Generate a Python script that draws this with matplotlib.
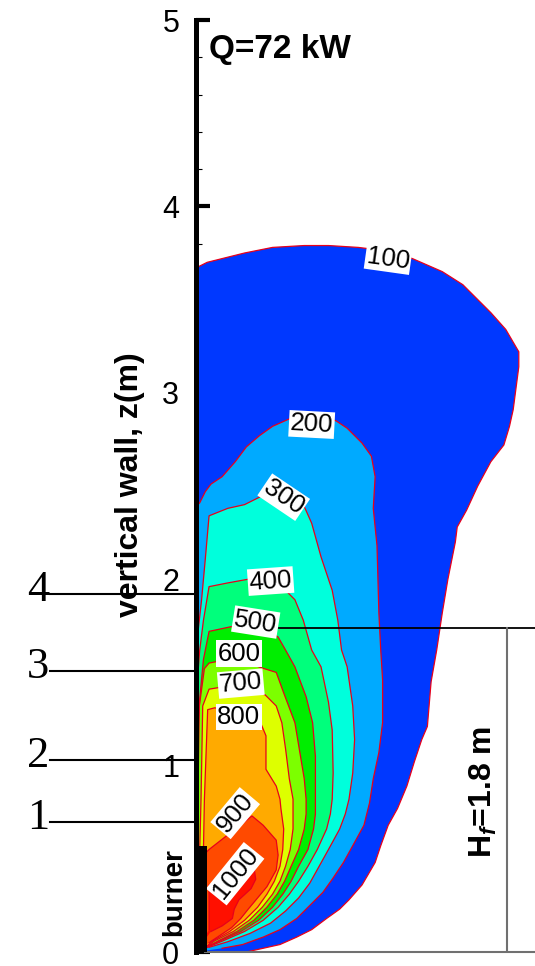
import matplotlib
matplotlib.use("Agg")
import matplotlib.pyplot as plt
from matplotlib.patches import Polygon, Rectangle
from matplotlib.ticker import MultipleLocator

plt.rcParams.update({
    "font.family": "Liberation Sans",
    "mathtext.fontset": "custom",
    "mathtext.rm": "Liberation Sans:bold",
    "mathtext.it": "Liberation Sans:italic:bold",
})

# ------------------------------------------------------------
# isotherm levels (deg C) and their fill colours
# ------------------------------------------------------------
LEVELS = [100, 200, 300, 400, 500, 600, 700, 800, 900, 1000]
FILL_COLORS = ["#0038ff", "#00aaff", "#00ffdc", "#00ff7c", "#00ee00",
               "#7cff00", "#ddff00", "#ffaa00", "#ff4a00", "#ff1000"]

# isotherm outlines: (x from wall [m], z [m])
ISO_100 = [(0.00, 3.67), (0.06, 3.70), (0.26, 3.75), (0.41, 3.78), (0.58, 3.79),
           (0.71, 3.79), (0.87, 3.78), (1.03, 3.76), (1.16, 3.72), (1.32, 3.65),
           (1.43, 3.58), (1.58, 3.43), (1.66, 3.34), (1.73, 3.22), (1.73, 3.14),
           (1.70, 2.91), (1.68, 2.82), (1.65, 2.72), (1.58, 2.63), (1.51, 2.50),
           (1.45, 2.37), (1.40, 2.28), (1.39, 2.20), (1.35, 2.00), (1.32, 1.82),
           (1.29, 1.62), (1.26, 1.45), (1.24, 1.21), (1.21, 1.14), (1.17, 1.02),
           (1.13, 0.89), (1.08, 0.77), (1.03, 0.68), (0.99, 0.57), (0.96, 0.48),
           (0.89, 0.36), (0.82, 0.28), (0.77, 0.23), (0.70, 0.18), (0.62, 0.12),
           (0.54, 0.08), (0.45, 0.04), (0.36, 0.02), (0.27, 0.00)]
ISO_200 = [(0.00, 2.39), (0.02, 2.41), (0.05, 2.47), (0.08, 2.51), (0.14, 2.55),
           (0.21, 2.63), (0.27, 2.71), (0.34, 2.77), (0.41, 2.82), (0.50, 2.86),
           (0.62, 2.87), (0.75, 2.85), (0.81, 2.81), (0.89, 2.73), (0.94, 2.66),
           (0.96, 2.55), (0.95, 2.38), (0.97, 2.18), (0.98, 1.82), (0.99, 1.62),
           (1.00, 1.46), (1.00, 1.23), (0.98, 1.07), (0.95, 0.93), (0.93, 0.80),
           (0.90, 0.68), (0.84, 0.57), (0.79, 0.48), (0.73, 0.39), (0.68, 0.32),
           (0.61, 0.25), (0.54, 0.18), (0.45, 0.12), (0.36, 0.08), (0.25, 0.04),
           (0.14, 0.02)]
ISO_300 = [(0.00, 1.62), (0.03, 1.89), (0.05, 2.11), (0.07, 2.34), (0.17, 2.38),
           (0.26, 2.40), (0.36, 2.45), (0.45, 2.47), (0.56, 2.46), (0.58, 2.39),
           (0.62, 2.30), (0.67, 2.12), (0.73, 1.94), (0.76, 1.78), (0.78, 1.62),
           (0.81, 1.53), (0.84, 1.32), (0.85, 1.14), (0.84, 0.96), (0.82, 0.82),
           (0.80, 0.74), (0.77, 0.66), (0.71, 0.55), (0.66, 0.46), (0.61, 0.37),
           (0.55, 0.29), (0.48, 0.22), (0.40, 0.155), (0.29, 0.10), (0.17, 0.055),
           (0.07, 0.025)]
ISO_400 = [(0.00, 1.36), (0.02, 1.62), (0.04, 1.78), (0.07, 1.96), (0.17, 1.98),
           (0.28, 2.00), (0.39, 2.01), (0.48, 1.94), (0.53, 1.89), (0.575, 1.78),
           (0.62, 1.62), (0.67, 1.53), (0.71, 1.34), (0.73, 1.19), (0.735, 0.96),
           (0.73, 0.82), (0.72, 0.74), (0.70, 0.66), (0.65, 0.55), (0.60, 0.46),
           (0.55, 0.38), (0.50, 0.31), (0.44, 0.24), (0.36, 0.17), (0.26, 0.11),
           (0.145, 0.06), (0.06, 0.025)]
ISO_500 = [(0.00, 1.03), (0.02, 1.36), (0.04, 1.57), (0.07, 1.72), (0.21, 1.75),
           (0.32, 1.76), (0.44, 1.69), (0.48, 1.62), (0.53, 1.53), (0.59, 1.37),
           (0.625, 1.23), (0.64, 1.05), (0.64, 0.82), (0.64, 0.74), (0.63, 0.66),
           (0.60, 0.55), (0.55, 0.46), (0.51, 0.38), (0.465, 0.31), (0.41, 0.24),
           (0.335, 0.17), (0.24, 0.11), (0.13, 0.06), (0.05, 0.025)]
ISO_600 = [(0.00, 0.71), (0.01, 0.82), (0.018, 1.32), (0.045, 1.52), (0.07, 1.55),
           (0.12, 1.56), (0.22, 1.57), (0.35, 1.525), (0.43, 1.50), (0.47, 1.39),
           (0.53, 1.23), (0.56, 1.05), (0.58, 0.93), (0.59, 0.82), (0.59, 0.74),
           (0.58, 0.66), (0.55, 0.55), (0.51, 0.46), (0.475, 0.38), (0.435, 0.31),
           (0.38, 0.24), (0.31, 0.17), (0.22, 0.11), (0.12, 0.06), (0.05, 0.02)]
ISO_700 = [(0.02, 0.55), (0.027, 0.82), (0.036, 1.32), (0.07, 1.41), (0.13, 1.42),
           (0.24, 1.41), (0.37, 1.38), (0.43, 1.32), (0.46, 1.23), (0.48, 1.09),
           (0.50, 0.93), (0.52, 0.82), (0.52, 0.74), (0.52, 0.66), (0.505, 0.55),
           (0.48, 0.46), (0.45, 0.38), (0.41, 0.31), (0.355, 0.24), (0.285, 0.17),
           (0.20, 0.11), (0.10, 0.06), (0.046, 0.02)]
ISO_800 = [(0.04, 0.55), (0.045, 0.82), (0.0625, 1.30), (0.10, 1.31), (0.22, 1.29),
           (0.35, 1.22), (0.375, 1.16), (0.375, 0.98), (0.43, 0.89), (0.45, 0.82),
           (0.455, 0.77), (0.47, 0.66), (0.465, 0.55), (0.45, 0.46), (0.42, 0.38),
           (0.38, 0.31), (0.33, 0.24), (0.26, 0.17), (0.18, 0.11), (0.09, 0.06),
           (0.045, 0.02)]
ISO_900 = [(0.05, 0.05), (0.05, 0.53), (0.07, 0.55), (0.30, 0.73), (0.36, 0.68),
           (0.43, 0.60), (0.44, 0.52), (0.43, 0.44), (0.38, 0.35), (0.33, 0.29),
           (0.28, 0.23), (0.24, 0.18), (0.19, 0.13), (0.13, 0.09), (0.07, 0.05)]
ISO_1000 = [(0.07, 0.12), (0.07, 0.36), (0.31, 0.46), (0.32, 0.39), (0.295, 0.34),
            (0.23, 0.28), (0.205, 0.23), (0.195, 0.18), (0.14, 0.14), (0.08, 0.11)]

ISOTHERMS = [ISO_100, ISO_200, ISO_300, ISO_400, ISO_500,
             ISO_600, ISO_700, ISO_800, ISO_900, ISO_1000]

# inline contour labels
LABEL_X = [1.03, 0.62, 0.47, 0.40, 0.32, 0.23, 0.24, 0.23, 0.21, 0.21]
LABEL_Z = [3.72, 2.83, 2.44, 1.99, 1.77, 1.60, 1.44, 1.26, 0.745, 0.42]
LABEL_ROT = [-8, -3, -34, 4, -9, 0, 5, 0, 50, 51]

# measuring points along the wall
PROBE_NAMES = ["1", "2", "3", "4"]
PROBE_Z = [0.70, 1.03, 1.51, 1.92]

BURNER_TOP = 0.57
FLAME_HEIGHT = 1.74
HRR_TEXT = "Q=72 kW"

# ------------------------------------------------------------
fig = plt.figure(figsize=(5.35, 9.66), dpi=100)
ax = fig.add_axes([196 / 535, 14 / 966, 339.6 / 535, 932 / 966])
ax.set_xlim(0, 1.82)
ax.set_ylim(0, 5)

for pts, col in zip(ISOTHERMS, FILL_COLORS):
    ax.add_patch(Polygon(pts + [(0.0, 0.0)], closed=True, facecolor=col,
                         edgecolor="none", zorder=2))
    xs = [p[0] for p in pts]
    zs = [p[1] for p in pts]
    ax.plot(xs, zs, color="#e8001a", lw=0.9, zorder=3)

for lev, lx, lz, rot in zip(LEVELS, LABEL_X, LABEL_Z, LABEL_ROT):
    ax.text(lx, lz, str(lev), fontsize=18.5, rotation=rot, ha="center",
            va="center", zorder=5,
            bbox=dict(boxstyle="square,pad=0.05", fc="white", ec="none"))

# burner
ax.add_patch(Rectangle((-0.013, 0), 0.07, BURNER_TOP, facecolor="black",
                       edgecolor="none", zorder=6, clip_on=False))

# flame height dimension
ax.plot([0.445, 1.82], [FLAME_HEIGHT, FLAME_HEIGHT], color="black", lw=1.3,
        zorder=4, clip_on=False)
ax.plot([1.667, 1.667], [0, FLAME_HEIGHT], color="#707070", lw=1.5, zorder=4)
ax.plot([0.05, 1.82], [0, 0], color="#707070", lw=1.5, zorder=4, clip_on=False)
ax.text(1.54, 0.86, r"H$_\mathit{f}$=1.8 m", rotation=90, fontsize=23,
        fontweight="bold", ha="center", va="center", zorder=5)

# probe markers
for name, pz in zip(PROBE_NAMES, PROBE_Z):
    ax.plot([-0.78, 0], [pz, pz], color="black", lw=1.5, zorder=7,
            clip_on=False)
    ax.text(-0.845, pz + 0.02, name, fontsize=32, family="Liberation Serif",
            ha="center", va="center", zorder=7, clip_on=False)

ax.text(0.07, 4.84, HRR_TEXT, fontsize=24, fontweight="bold",
        ha="left", va="center")
ax.text(-0.118, 0.32, "burner", rotation=90, fontsize=20, fontweight="bold",
        ha="center", va="center", clip_on=False)
ax.text(-0.354, 2.51, "vertical wall, z(m)", rotation=90, fontsize=23,
        fontweight="bold", ha="center", va="center", clip_on=False)

# axis styling: only the wall (left spine)
for side in ["top", "right", "bottom"]:
    ax.spines[side].set_visible(False)
ax.spines["left"].set_linewidth(3.6)
ax.spines["left"].set_zorder(8)
ax.set_xticks([])
ax.yaxis.set_major_locator(MultipleLocator(1))
ax.yaxis.set_minor_locator(MultipleLocator(0.2))
ax.tick_params(axis="y", which="major", direction="in", length=10, width=3,
               labelsize=22, pad=12)
ax.tick_params(axis="y", which="minor", direction="in", length=4, width=0.8)
ax.patch.set_visible(False)

fig.savefig("out.png", dpi=100)
